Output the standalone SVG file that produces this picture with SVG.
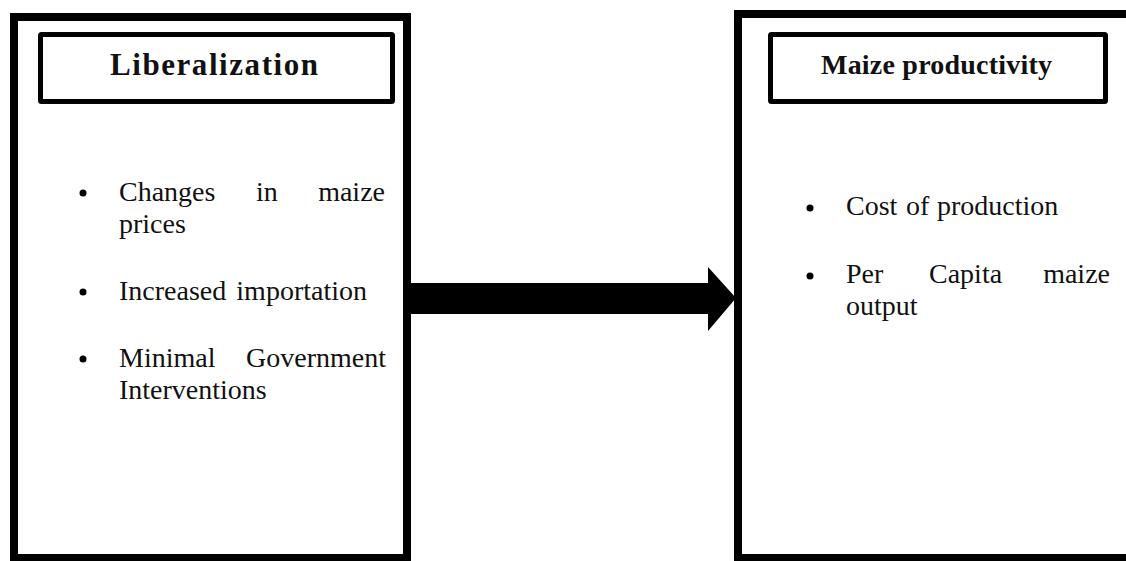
<svg xmlns="http://www.w3.org/2000/svg" width="1126" height="561" viewBox="0 0 1126 561">
<style>
.outer{fill:#fff;stroke:#000;stroke-width:8}
.title{fill:#fff;stroke:#000;stroke-width:5}
.h{font-family:"Liberation Serif","Times New Roman",serif;font-weight:bold;font-size:28px;fill:#111}
.h.big{font-size:31px}
.t{font-family:"Liberation Serif","Times New Roman",serif;font-size:28px;fill:#111}
.dot{fill:#000}
</style>
<rect width="1126" height="561" fill="#fff"/>
<g id="liberalization">
<rect class="outer" x="14" y="17" width="393" height="541"/>
<rect class="title" x="40.5" y="34.5" width="352" height="67" rx="1"/>
<text class="h big" x="110" y="75" textLength="208" lengthAdjust="spacing">Liberalization</text>
<circle class="dot" cx="83" cy="193" r="3.5"/>
<text class="t" x="119" y="201">Changes</text>
<text class="t" x="256" y="201">in</text>
<text class="t" x="385" y="201" text-anchor="end">maize</text>
<text class="t" x="119" y="233">prices</text>
<circle class="dot" cx="83" cy="292" r="3.5"/>
<text class="t" x="119" y="300">Increased</text>
<text class="t" x="367" y="300" text-anchor="end">importation</text>
<circle class="dot" cx="83" cy="359" r="3.5"/>
<text class="t" x="119" y="367">Minimal</text>
<text class="t" x="386" y="367" text-anchor="end">Government</text>
<text class="t" x="119" y="399">Interventions</text>
</g>
<g id="maize-productivity">
<rect class="outer" x="738" y="14" width="420" height="544"/>
<rect class="title" x="770.5" y="34.5" width="335" height="67" rx="1"/>
<text class="h" x="821" y="74" textLength="231" lengthAdjust="spacing">Maize productivity</text>
<circle class="dot" cx="810" cy="208" r="3.5"/>
<text class="t" x="846" y="215">Cost</text>
<text class="t" x="906" y="215">of</text>
<text class="t" x="937" y="215">production</text>
<circle class="dot" cx="810" cy="276" r="3.5"/>
<text class="t" x="846" y="283">Per</text>
<text class="t" x="929" y="283">Capita</text>
<text class="t" x="1110" y="283" text-anchor="end">maize</text>
<text class="t" x="846" y="315">output</text>
</g>
<g id="connectors">
<polygon points="411,283 708,283 708,267 736,298 708,331 708,314 411,314" fill="#000"/>
</g>
</svg>
